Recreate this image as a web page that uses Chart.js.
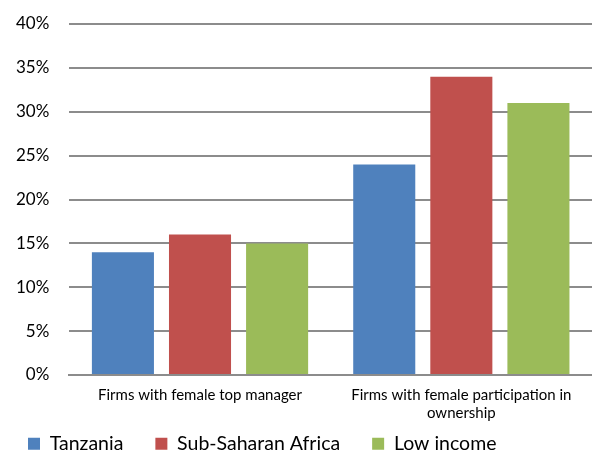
<!DOCTYPE html>
<html>
<head>
<meta charset="utf-8">
<script src="https://cdn.jsdelivr.net/npm/chart.js@4"></script>
<style>
  html, body { margin: 0; padding: 0; background: #fff; }
  #wrap { width: 592px; height: 451px; }
</style>
</head>
<body>
<div id="wrap"><canvas id="chart"></canvas></div>
<script>
const categories = [
  "Firms with female top manager",
  ["Firms with female participation in", "ownership"]
];
const tanzania = [14, 24];
const subSaharan = [16, 34];
const lowIncome = [15, 31];
const yTicks = [0, 5, 10, 15, 20, 25, 30, 35, 40];

const font = "Lato, 'Open Sans', sans-serif";

// wide gaps between legend entries, but only a thin strip reserved for the row,
// which is then lifted up to sit right under the axis labels
const legendFit = {
  id: "legendFit",
  afterInit(chart) {
    const legend = chart.legend;
    const fit = legend.fit;
    legend.fit = function () {
      fit.call(this);
      this.height = 18;
    };
  },
  afterLayout(chart) {
    chart.legend.top = chart.height - 49;
  }
};

new Chart(document.getElementById("chart"), {
  type: "bar",
  data: {
    labels: categories,
    datasets: [
      { label: "Tanzania", data: tanzania, backgroundColor: "#4f81bd" },
      { label: "Sub-Saharan Africa", data: subSaharan, backgroundColor: "#c0504d" },
      { label: "Low income", data: lowIncome, backgroundColor: "#9bbb59" }
    ]
  },
  plugins: [legendFit],
  options: {
    responsive: true,
    maintainAspectRatio: false,
    animation: false,
    categoryPercentage: 0.885,
    barPercentage: 0.805,
    layout: { padding: { top: 24, right: 0, left: -4, bottom: 0 } },
    scales: {
      y: {
        min: yTicks[0],
        max: yTicks[yTicks.length - 1],
        afterBuildTicks: axis => { axis.ticks = yTicks.map(v => ({ value: v })); },
        // the label padding would otherwise also be added above and below the axis
        afterFit: axis => {
          axis.paddingTop = 10;
          axis.paddingBottom = 10;
        },
        ticks: {
          color: "#000",
          padding: 20,
          font: { family: font, size: 17 },
          callback: v => v + "%"
        },
        grid: { color: "#8c8c8c", lineWidth: 2, drawTicks: false },
        border: { display: false }
      },
      x: {
        ticks: {
          color: "#000",
          padding: 11,
          maxRotation: 0,
          font: { family: font, size: 15, lineHeight: 1.2 }
        },
        grid: { display: false, drawTicks: false },
        border: { color: "#8c8c8c", width: 2 }
      }
    },
    plugins: {
      legend: {
        position: "bottom",
        align: "start",
        labels: {
          color: "#000",
          boxWidth: 12,
          boxHeight: 12,
          padding: 32,
          font: { family: font, size: 19.5 }
        }
      },
      tooltip: { enabled: false }
    }
  }
});
</script>
</body>
</html>
